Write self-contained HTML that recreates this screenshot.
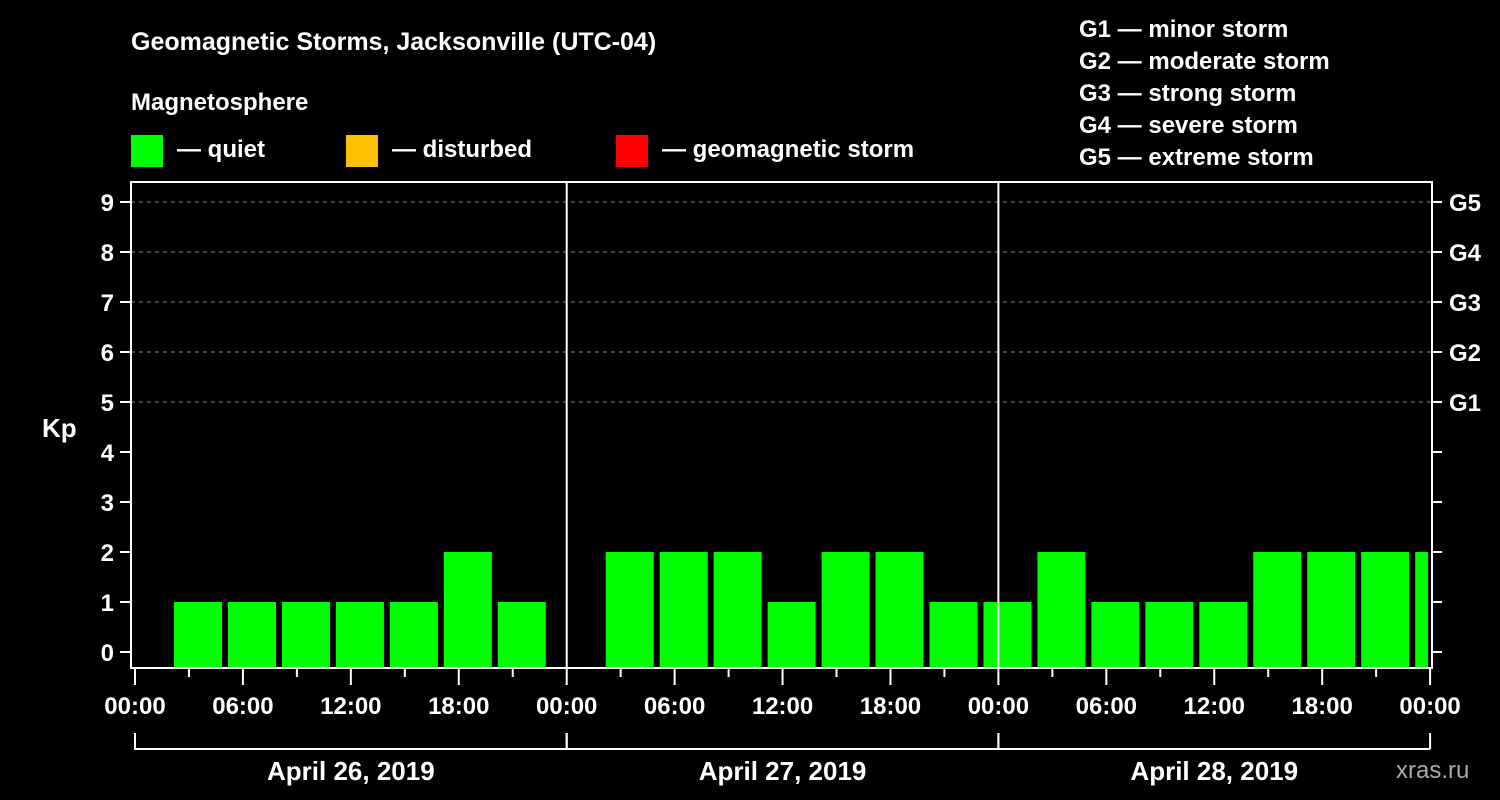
<!DOCTYPE html>
<html><head><meta charset="utf-8"><style>
body{margin:0;background:#000;width:1500px;height:800px;overflow:hidden}
svg{display:block;font-family:"Liberation Sans",Arial,sans-serif;font-weight:bold}
</style></head><body>
<svg id="chart" width="1500" height="800">
<rect width="1500" height="800" fill="#000"/>
<text x="131" y="50" fill="#fff" font-size="25">Geomagnetic Storms, Jacksonville (UTC-04)</text>
<text x="131" y="110" fill="#fff" font-size="24">Magnetosphere</text>
<g><rect x="131" y="135" width="32" height="32" fill="#00ff00"/><text x="177" y="157" fill="#fff" font-size="24">— quiet</text></g>
<g><rect x="346" y="135" width="32" height="32" fill="#ffc000"/><text x="392" y="157" fill="#fff" font-size="24">— disturbed</text></g>
<g><rect x="616" y="135" width="32" height="32" fill="#ff0000"/><text x="662" y="157" fill="#fff" font-size="24">— geomagnetic storm</text></g>
<g fill="#fff" font-size="24">
<text x="1079" y="37">G1 — minor storm</text>
<text x="1079" y="69">G2 — moderate storm</text>
<text x="1079" y="101">G3 — strong storm</text>
<text x="1079" y="133">G4 — severe storm</text>
<text x="1079" y="165">G5 — extreme storm</text>
</g>
<text x="42" y="437" fill="#fff" font-size="26">Kp</text>
<text x="1396" y="778" fill="#aaa" font-size="24" font-weight="normal">xras.ru</text>
<g id="plot"></g>
</svg>
<script>
const kpValues=[1,1,1,1,1,2,1,0,2,2,2,1,2,2,1,1,2,1,1,1,2,2,2,2];
const yTicks=[0,1,2,3,4,5,6,7,8,9];
const gLabels=["G1","G2","G3","G4","G5"];
const gLevels=[5,6,7,8,9];
const dayLabels=["April 26, 2019","April 27, 2019","April 28, 2019"];
const timeLabels=["00:00","06:00","12:00","18:00"];
const NS="http://www.w3.org/2000/svg";
const plot=document.getElementById('plot');
const X0=135,DAYW=431.7,L=131,R=1432,T=182,B=668;
const x=h=>X0+h*DAYW/24;
const y=v=>652-v*50;
function mk(t,a){const e=document.createElementNS(NS,t);for(const k in a)e.setAttribute(k,a[k]);plot.appendChild(e);return e;}
// gridlines
gLevels.forEach(v=>{const e=mk('line',{x1:L,x2:R,y1:y(v),y2:y(v),stroke:'#888','stroke-dasharray':'4,4'});

});
// bars
kpValues.forEach((v,i)=>{if(v<=0)return;const x1=x(i*3+2.17),x2=Math.min(x(i*3+2.17)+48,R-4);
const col=v>=5?'#ff0000':v>=4?'#ffc000':'#00ff00';
const e=mk('rect',{x:x1,y:y(v),width:x2-x1,height:B-1-y(v),fill:col});

});
// frame
const f=mk('rect',{x:L,y:T,width:R-L,height:B-T,fill:'none',stroke:'#fff','stroke-width':2});


// day separators
[1,2].forEach(d=>{const e=mk('line',{x1:x(d*24),x2:x(d*24),y1:T,y2:B,stroke:'#fff','stroke-width':2});

});
// y ticks
yTicks.forEach(v=>{mk('line',{x1:120,x2:L,y1:y(v),y2:y(v),stroke:'#fff','stroke-width':2});
mk('line',{x1:R,x2:1442,y1:y(v),y2:y(v),stroke:'#fff','stroke-width':2});
const t=mk('text',{x:114,y:y(v)+9,fill:'#fff','font-size':24,'text-anchor':'end'});t.textContent=v;

});
gLabels.forEach((g,i)=>{const t=mk('text',{x:1449,y:y(gLevels[i])+9,fill:'#fff','font-size':24});t.textContent=g;

});
// x ticks
for(let h=0;h<=72;h+=3){const major=h%6===0;mk('line',{x1:x(h),x2:x(h),y1:B,y2:B+(major?17:9),stroke:'#fff','stroke-width':2});}
for(let h=0;h<=72;h+=6){const t=mk('text',{x:x(h),y:714,fill:'#fff','font-size':24,'text-anchor':'middle'});t.textContent=timeLabels[(h/6)%4];

}
// day brackets
dayLabels.forEach((d,i)=>{const a=x(i*24),b=x(i*24+24);
mk('path',{d:`M${a},733V749H${b}M${b},733V749`,stroke:'#fff','stroke-width':2,fill:'none'});
const t=mk('text',{x:(a+b)/2,y:780,fill:'#fff','font-size':26,'text-anchor':'middle'});t.textContent=d;

});
</script>
</body></html>
